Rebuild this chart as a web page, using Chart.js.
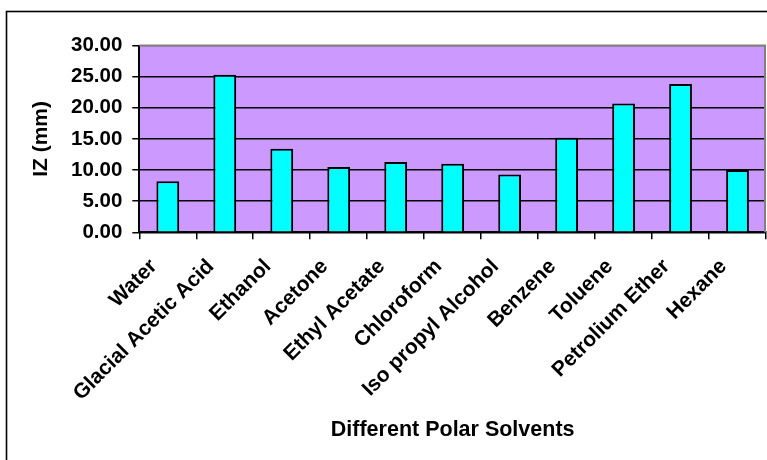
<!DOCTYPE html>
<html>
<head>
<meta charset="utf-8">
<script src="https://cdn.jsdelivr.net/npm/chart.js@4.4.1/dist/chart.umd.min.js"></script>
<style>
  html, body { margin: 0; padding: 0; background: #fff; }
  #wrap { width: 767px; height: 460px; position: relative; }
</style>
</head>
<body>
<div id="wrap"><canvas id="c" width="767" height="460"></canvas></div>
<script>
const categories = ["Water", "Glacial Acetic Acid", "Ethanol", "Acetone", "Ethyl Acetate", "Chloroform", "Iso propyl Alcohol", "Benzene", "Toluene", "Petrolium Ether", "Hexane"];
const izValues = [8.2, 25.3, 13.4, 10.5, 11.3, 11.0, 9.3, 15.2, 20.7, 23.8, 10.0];
const yTitle = "IZ (mm)";
const xTitle = "Different Polar Solvents";
const yMin = 0, yMax = 30, yStep = 5;

const FONT = "'Liberation Sans', Arial, sans-serif";

const decor = {
  id: 'decor',
  beforeDraw(chart) {
    const ctx = chart.ctx;
    ctx.save();
    ctx.fillStyle = '#ffffff';
    ctx.fillRect(0, 0, chart.width, chart.height);
    ctx.strokeStyle = '#000000';
    ctx.lineWidth = 1.6;
    ctx.strokeRect(6.5, 11.5, chart.width + 20, chart.height + 20);
    const a = chart.chartArea;
    ctx.fillStyle = '#CC99FF';
    ctx.fillRect(a.left, a.top, a.right - a.left, a.bottom - a.top);
    ctx.restore();
  },
  beforeDatasetsDraw(chart) {
    const ctx = chart.ctx;
    const a = chart.chartArea;
    ctx.save();
    ctx.strokeStyle = '#808080';
    ctx.lineWidth = 2;
    ctx.beginPath();
    ctx.moveTo(a.left, a.top);
    ctx.lineTo(a.right - 1, a.top);
    ctx.lineTo(a.right - 1, a.bottom);
    ctx.stroke();
    ctx.restore();
  }
};

new Chart(document.getElementById('c'), {
  type: 'bar',
  data: {
    labels: categories,
    datasets: [{
      data: izValues,
      backgroundColor: '#00FFFF',
      borderColor: '#000000',
      borderWidth: 2,
      barPercentage: 0.4,
      categoryPercentage: 1.0
    }]
  },
  options: {
    responsive: false,
    animation: false,
    devicePixelRatio: 1,
    layout: { padding: { top: 45.5, right: 1, bottom: 0, left: 0 } },
    plugins: { legend: { display: false }, tooltip: { enabled: false }, title: { display: false } },
    scales: {
      x: {
        offset: true,
        grid: { display: true, drawOnChartArea: false, drawTicks: true, tickLength: 7, offset: true, color: '#000', tickColor: '#000', lineWidth: 1.5 },
        border: { display: true, color: '#000', width: 2 },
        ticks: {
          autoSkip: false, minRotation: 45, maxRotation: 45, padding: 15, labelOffset: -14,
          color: '#000', font: { family: FONT, size: 21, weight: 'bold' }
        },
        title: { display: true, text: xTitle, color: '#000', font: { family: FONT, size: 21.5, weight: 'bold' }, padding: { top: 0, bottom: 17 } },
        afterFit(scale) { scale.height = 227.7; scale.paddingLeft = 0; scale.paddingRight = 0; }
      },
      y: {
        min: yMin, max: yMax,
        grid: {
          display: true, drawOnChartArea: true, drawTicks: true, tickLength: 7, tickColor: '#000', lineWidth: 1.5,
          color: (ctx) => (ctx.tick && ctx.tick.value === yMax ? '#808080' : '#000')
        },
        border: { display: true, color: '#000', width: 2 },
        ticks: {
          stepSize: yStep, padding: 10, color: '#000',
          font: { family: FONT, size: 20.5, weight: 'bold' },
          callback: (v) => Number(v).toFixed(2)
        },
        title: { display: true, text: yTitle, color: '#000', font: { family: FONT, size: 21, weight: 'bold' }, padding: { top: 29, bottom: 0 } },
        afterFit(scale) { scale.width = 139.3; scale.paddingTop = 0; scale.paddingBottom = 0; }
      }
    }
  },
  plugins: [decor]
});
</script>
</body>
</html>
